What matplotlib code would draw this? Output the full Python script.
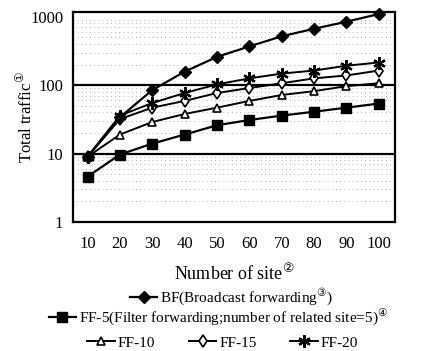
import numpy as np
import matplotlib.pyplot as plt
from matplotlib.ticker import LogLocator, NullFormatter

plt.rcParams['font.family'] = ['Liberation Serif', 'DejaVu Sans']

sites = [10, 20, 30, 40, 50, 60, 70, 80, 90, 100]
bf = [9, 34, 85, 158, 260, 370, 520, 670, 850, 1100]
ff5 = [4.6, 9.7, 14, 19, 26, 31, 36, 41, 47, 54]
ff10 = [9, 19, 29, 38, 47, 59, 72, 82, 97, 107]
ff15 = [9, 32, 47, 59, 77, 91, 107, 126, 139, 164]
ff20 = [9, 36, 55, 77, 103, 126, 148, 164, 193, 215]
y_ticks = [1, 10, 100, 1000]

fig = plt.figure(figsize=(4.37, 3.51), dpi=100)
ax = fig.add_axes([0.167, 0.3675, 0.737, 0.5985])

l_bf, = ax.plot(sites, bf, '-', color='black', lw=1.6, marker='D', ms=6,
                label='BF(Broadcast forwarding$^{③}$)', clip_on=False, zorder=5)
l_ff5, = ax.plot(sites, ff5, '-', color='black', lw=1.6, marker='s', ms=7,
                 label='FF-5(Filter forwarding;number of related site=5)$^{④}$')
l_ff10, = ax.plot(sites, ff10, '-', color='black', lw=1.4, marker='^', ms=6,
                  mfc='white', mew=1.2, label='FF-10')
l_ff15, = ax.plot(sites, ff15, '-', color='black', lw=1.4, marker='d', ms=6,
                  mfc='white', mew=1.2, label='FF-15')
l_ff20, = ax.plot(sites, ff20, '-', color='black', lw=1.4, marker=(6, 2, 0), ms=9,
                  mew=1.6, label='FF-20')

ax.set_yscale('log')
ax.set_ylim(1, 1180)
ax.set_xlim(5.5, 105)
ax.set_xticks(sites)
ax.set_xticklabels([str(s) for s in sites], fontsize=12)
ax.set_yticks(y_ticks)
ax.set_yticklabels([str(t) for t in y_ticks], fontsize=12)
ax.yaxis.set_minor_locator(LogLocator(base=10, subs=np.arange(2, 10)))
ax.yaxis.set_minor_formatter(NullFormatter())
ax.tick_params(axis='both', which='both', length=0)
ax.tick_params(axis='x', pad=10)
ax.tick_params(axis='y', pad=7)

# solid lines at 10 and 100, dotted minor lines
for t in y_ticks[1:3]:
    ax.axhline(t, color='black', lw=1.6, zorder=1)
ax.grid(True, which='minor', axis='y', color='#999999', lw=0.6, linestyle=(0, (1, 4)))
for sp in ax.spines.values():
    sp.set_linewidth(1.6)

ax.set_ylabel('Total traffic$^{①}$', fontsize=12, labelpad=-4)
ax.set_xlabel('Number of site$^{②}$', fontsize=13, labelpad=8)

kw = dict(frameon=False, fontsize=11, handlelength=1.8, handletextpad=0.2,
          borderaxespad=0, borderpad=0)
leg1 = fig.legend(handles=[l_bf], loc='center', bbox_to_anchor=(0.53, 0.152), **kw)
leg2 = fig.legend(handles=[l_ff5], loc='center', bbox_to_anchor=(0.5, 0.097), **kw)
leg3 = fig.legend(handles=[l_ff10, l_ff15, l_ff20], loc='center', ncol=3,
                  columnspacing=2.2, bbox_to_anchor=(0.51, 0.023), **kw)

fig.savefig('out.png', dpi=100)
